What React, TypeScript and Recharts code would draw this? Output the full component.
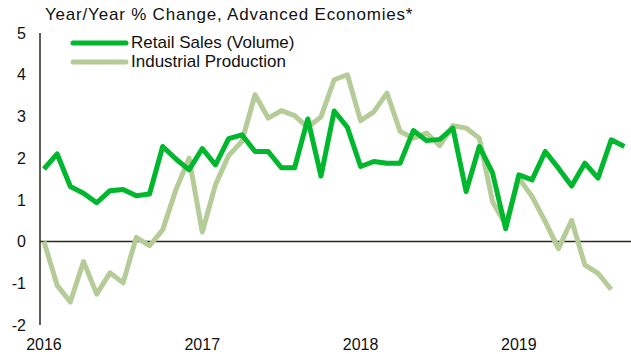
import React from "react";
import { LineChart, Line, XAxis, YAxis, ReferenceLine } from "recharts";

// monthly, Jan 2016 onward
const retailSales = [
  1.74, 2.1, 1.32, 1.16, 0.93, 1.22, 1.25, 1.1, 1.14, 2.28, 1.98, 1.72,
  2.23, 1.84, 2.47, 2.56, 2.16, 2.16, 1.77, 1.77, 2.94, 1.57, 3.13, 2.74,
  1.8, 1.92, 1.88, 1.88, 2.66, 2.42, 2.45, 2.72, 1.2, 2.28, 1.65, 0.31,
  1.6, 1.48, 2.16, 1.76, 1.33, 1.88, 1.52, 2.44, 2.28,
];
const industrialProduction = [
  0.0, -1.05, -1.45, -0.48, -1.26, -0.75, -0.99, 0.1, -0.1, 0.28, 1.24, 2.0,
  0.23, 1.36, 2.06, 2.4, 3.52, 2.96, 3.14, 3.02, 2.74, 2.99, 3.88, 4.0,
  2.9, 3.11, 3.56, 2.64, 2.48, 2.6, 2.3, 2.78, 2.72, 2.48, 0.96, 0.4,
  1.52, 1.08, 0.48, -0.17, 0.51, -0.56, -0.76, -1.15,
];
const yearTicks = [0, 12, 24, 36];
const yearLabels = ["2016", "2017", "2018", "2019"];
const yTicks = [-2, -1, 0, 1, 2, 3, 4, 5];

const RETAIL = "#00b72d";
const INDUSTRIAL = "#b5cc98";
const AXIS = "#2a2a1a";
const FONT = "'Liberation Sans', Arial, sans-serif";

const data = retailSales.map((r, i) => ({
  i,
  retail: r,
  industrial: i < industrialProduction.length ? industrialProduction[i] : null,
}));

const legendItems = [
  { label: "Retail Sales (Volume)", color: RETAIL },
  { label: "Industrial Production", color: INDUSTRIAL },
];

function LegendBox() {
  return (
    <div
      style={{
        position: "absolute",
        left: 70,
        top: 33,
        fontFamily: FONT,
        fontSize: 17,
        color: "#111",
        whiteSpace: "nowrap",
      }}
    >
      {legendItems.map((it) => (
        <div
          key={it.label}
          style={{ display: "flex", alignItems: "center", height: 19.5 }}
        >
          <svg width={59} height={10} style={{ marginRight: 2 }}>
            <line
              x1={3}
              y1={5}
              x2={56}
              y2={5}
              stroke={it.color}
              strokeWidth={5}
              strokeLinecap="round"
            />
          </svg>
          <span>{it.label}</span>
        </div>
      ))}
    </div>
  );
}

export default function App() {
  return (
    <div
      style={{
        position: "absolute",
        left: 0,
        top: 0,
        width: 631,
        height: 354,
        background: "#fff",
      }}
    >
      <LineChart
        width={631}
        height={354}
        data={data}
        margin={{ top: 33, right: 0, bottom: 0, left: 0 }}
      >
        <XAxis
          dataKey="i"
          type="number"
          domain={[-0.3, 44.5]}
          ticks={yearTicks}
          tickFormatter={(v: number) => yearLabels[yearTicks.indexOf(v)]}
          axisLine={false}
          tickLine={false}
          tickMargin={8}
          height={29}
          tick={{ fontSize: 16, fill: "#111", fontFamily: FONT }}
        />
        <YAxis
          domain={[-2, 5]}
          ticks={yTicks}
          width={40}
          axisLine={{ stroke: AXIS, strokeWidth: 1.5 }}
          tickLine={false}
          tickMargin={8}
          interval={0}
          tick={{ fontSize: 16, fill: "#111", fontFamily: FONT }}
        />
        <ReferenceLine y={0} stroke={AXIS} strokeWidth={1.5} />
        <Line
          dataKey="industrial"
          stroke={INDUSTRIAL}
          strokeWidth={5}
          dot={false}
          isAnimationActive={false}
          strokeLinejoin="round"
        />
        <Line
          dataKey="retail"
          stroke={RETAIL}
          strokeWidth={5}
          dot={false}
          isAnimationActive={false}
          strokeLinejoin="round"
        />
      </LineChart>
      <div
        style={{
          position: "absolute",
          left: 45,
          top: 5,
          fontFamily: FONT,
          fontSize: 17,
          letterSpacing: 0.8,
          color: "#111",
          whiteSpace: "nowrap",
        }}
      >
        Year/Year % Change, Advanced Economies*
      </div>
      <LegendBox />
    </div>
  );
}
